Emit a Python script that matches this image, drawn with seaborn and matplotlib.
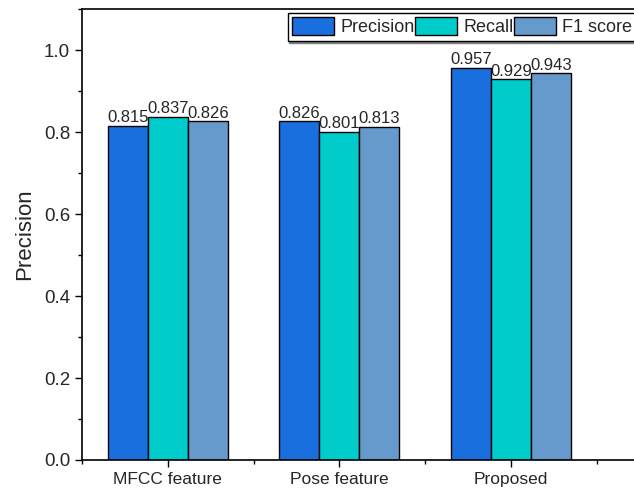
import pandas as pd
import seaborn as sns
import matplotlib.pyplot as plt
from matplotlib.ticker import MultipleLocator, FixedLocator

methods = ["MFCC feature", "Pose feature", "Proposed"]
metrics = ["Precision", "Recall", "F1 score"]
precision = [0.815, 0.826, 0.957]
recall = [0.837, 0.801, 0.929]
f1_score = [0.826, 0.813, 0.943]
colors = ["#1A6FDF", "#00CCCC", "#6699CC"]


def build_frame():
    rows = []
    for name, vals in zip(metrics, [precision, recall, f1_score]):
        for m, v in zip(methods, vals):
            rows.append({"method": m, "metric": name, "value": v})
    return pd.DataFrame(rows)


def main():
    df = build_frame()
    sns.set_style("ticks")
    plt.rcParams["font.family"] = ["Liberation Sans", "DejaVu Sans"]

    fig = plt.figure(figsize=(6.34, 4.96), dpi=100)
    ax = fig.add_axes([0.1293, 0.0726, 0.885, 0.909])

    sns.barplot(data=df, x="method", y="value", hue="metric",
                palette=colors, width=0.7, edgecolor="black", linewidth=1,
                saturation=1, ax=ax)

    for cont in ax.containers:
        ax.bar_label(cont, fmt="%.3f", padding=0.5, fontsize=12)

    ax.set_ylim(0, 1.1)
    ax.set_xlim(-0.5, 2.77)
    ax.yaxis.set_major_locator(MultipleLocator(0.2))
    ax.yaxis.set_minor_locator(MultipleLocator(0.1))
    ax.xaxis.set_minor_locator(FixedLocator([-0.5, 0.5, 1.5, 2.5]))
    ax.tick_params(axis="both", which="major", direction="out", length=5,
                   width=1, color="black")
    ax.tick_params(axis="y", which="major", labelsize=13.5)
    ax.tick_params(axis="x", which="major", labelsize=12.5)
    ax.tick_params(axis="both", which="minor", direction="out", length=3,
                   width=1, color="black")
    ax.set_xlabel("")
    ax.set_ylabel("Precision", fontsize=16, labelpad=6)
    for s in ["left", "bottom", "top"]:
        ax.spines[s].set_linewidth(1.2)
        ax.spines[s].set_color("black")
    ax.spines["right"].set_visible(False)

    ax.legend(title=None, ncol=3, loc="upper right",
              bbox_to_anchor=(1.004, 0.974), bbox_transform=fig.transFigure,
              fontsize=13, frameon=True, fancybox=False, edgecolor="black",
              framealpha=1, shadow={"color": "0.5", "alpha": 1, "ox": 1.2, "oy": -1.2},
              handlelength=2.3, handleheight=1.15, handletextpad=0.35,
              columnspacing=0.05, borderpad=0.25, borderaxespad=0)
    leg = ax.get_legend()
    leg.get_frame().set_linewidth(1)

    fig.savefig("out.png", dpi=100)
    plt.close(fig)


if __name__ == "__main__":
    main()
